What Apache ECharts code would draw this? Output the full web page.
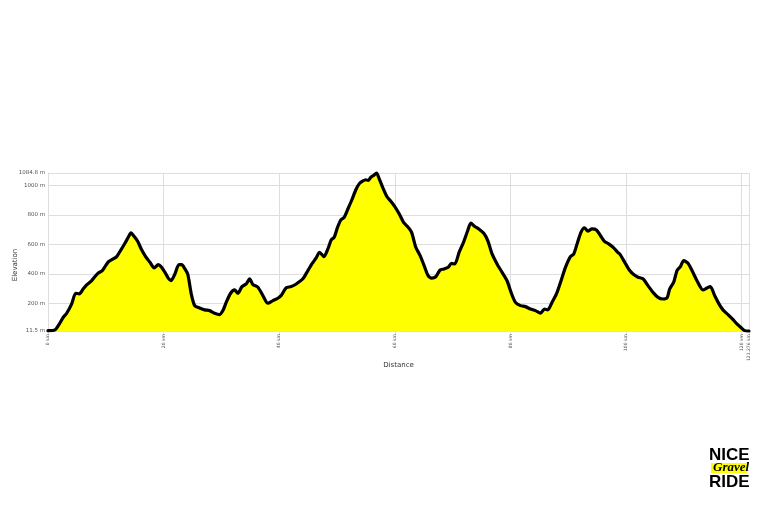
<!DOCTYPE html>
<html>
<head>
<meta charset="utf-8">
<script src="https://cdn.jsdelivr.net/npm/echarts@6/dist/echarts.min.js"></script>
<style>
html,body{margin:0;padding:0;background:#fff;}
#chart{width:768px;height:507px;}
</style>
</head>
<body>
<div id="chart"></div>
<script>
// Distance along route (km)
const distKm = [0, 1.21, 1.78, 2.65, 3.23, 4.10, 4.79, 5.41, 6.10, 6.69, 7.43, 8.13, 8.70, 9.39, 9.98, 10.55, 11.29, 11.88, 12.62, 13.31, 13.89, 14.35, 14.92, 15.51, 16.20, 16.89, 17.64, 18.38, 19.07, 19.66, 20.23, 20.80, 21.27, 21.96, 22.65, 23.12, 23.69, 24.20,
  24.78, 25.37, 26.23, 27.10, 27.96, 28.83, 29.69, 30.26, 30.83, 31.59, 32.28, 32.85, 33.55, 34.29, 34.88, 35.45, 36.31, 37.18, 38.04, 38.91, 39.77, 40.34, 41.21, 42.07, 42.94, 44.09, 44.96, 45.65, 46.39, 46.98, 47.73, 48.42, 48.99,
  49.51, 50.09, 50.67, 51.24, 51.82, 52.52, 53.26, 53.83, 54.42, 54.99, 55.39, 55.85, 56.32, 56.84, 57.29, 57.88, 58.62, 59.31, 60.00, 60.75, 61.51, 62.20, 62.89, 63.63, 64.38, 65.07, 65.76, 66.35, 67.09, 67.84, 68.53, 69.22, 69.81, 70.38, 71.12, 71.88, 72.57, 73.15, 73.84,
  74.53, 75.39, 76.08, 76.83, 77.69, 78.56, 79.42, 80.11, 80.87, 81.74, 82.60, 83.47, 84.33, 85.20, 85.89, 86.46, 87.20, 87.96, 88.76, 89.52, 90.38, 90.96, 91.53, 92.22, 92.81, 93.38, 94.12, 94.88, 95.57, 96.26, 97.01, 97.87, 98.57,
  98.91, 99.78, 100.64, 101.33, 102.07, 102.94, 103.80, 104.67, 105.53, 106.40, 107.09, 107.56, 108.25, 108.82, 109.41, 109.98, 110.72, 111.48, 112.28, 113.32, 114.01, 114.59, 115.34, 116.08, 116.77, 117.64, 118.40, 119.10, 119.83, 120.52, 121.276];
// Elevation (m)
const elevM = [14, 19, 48, 105, 132, 196, 268, 264, 298, 325, 348, 382, 405, 422, 456, 485, 502, 517, 563, 608, 648, 678, 653, 621, 563, 517, 478, 440, 462, 444, 410, 371, 353, 399, 462, 462, 433, 395,
  264, 184, 168, 155, 150, 132, 123, 150, 206, 268, 291, 268, 313, 331, 366, 327, 309, 252, 200, 218, 234, 252, 305, 313, 331, 366, 422, 467, 508, 546, 517, 569, 630,
  648, 716, 767, 784, 835, 898, 971, 1011, 1029, 1039, 1034, 1056, 1068, 1084.8, 1046, 989, 925, 893, 857, 808, 750, 721, 683, 580, 524, 456, 388, 371, 380, 426, 433, 444, 471, 467, 546, 614, 689, 744, 721,
  705, 675, 626, 535, 467, 410, 353, 274, 206, 184, 177, 161, 150, 132, 161, 155, 206, 263, 353, 444, 517, 535, 603, 683, 713, 690, 705, 698, 660, 621, 603, 576, 546,
  535, 478, 422, 395, 377, 366, 320, 274, 240, 229, 236, 297, 343, 422, 449, 490, 472, 417, 353, 290, 304, 313, 252, 196, 155, 123, 94, 64, 37, 14, 11.5];

const yTicks = [11.5, 200, 400, 600, 800, 1000, 1084.8];
const xTicks = [0, 20, 40, 60, 80, 100, 120, 121.276];
const yAxisName = 'Elevation';
const xAxisName = 'Distance';

const points = distKm.map((d, i) => [d, elevM[i]]);

const chart = echarts.init(document.getElementById('chart'), null, {renderer: 'canvas'});
const gridColor = '#dedede';
chart.setOption({
  animation: false,
  backgroundColor: '#ffffff',
  grid: {left: 48, right: 19, top: 173, bottom: 176, containLabel: false, outerBoundsMode: 'none'},
  xAxis: {
    type: 'value',
    min: xTicks[0],
    max: xTicks[xTicks.length - 1],
    name: xAxisName,
    nameLocation: 'middle',
    nameGap: 31,
    nameMoveOverlap: false,
    nameTextStyle: {fontSize: 7, color: '#333', fontFamily: 'DejaVu Sans'},
    axisLine: {show: true, lineStyle: {color: gridColor}},
    axisTick: {show: true, length: 9, lineStyle: {color: gridColor}, customValues: xTicks},
    axisLabel: {
      customValues: xTicks,
      rotate: 90,
      fontSize: 4.5,
      color: '#555',
      margin: 3,
      fontFamily: 'DejaVu Sans',
      formatter: v => v + ' km'
    },
    splitLine: {show: true, lineStyle: {color: gridColor, width: 1}}
  },
  yAxis: {
    type: 'value',
    min: yTicks[0],
    max: yTicks[yTicks.length - 1],
    name: yAxisName,
    nameLocation: 'middle',
    nameGap: 29,
    nameMoveOverlap: false,
    nameTextStyle: {fontSize: 7, color: '#333', fontFamily: 'DejaVu Sans', padding: [0, 26, 0, 0]},
    axisLine: {show: true, lineStyle: {color: gridColor}},
    axisTick: {show: false, customValues: yTicks},
    axisLabel: {
      customValues: yTicks,
      fontSize: 5.5,
      color: '#555',
      margin: 3,
      fontFamily: 'DejaVu Sans',
      formatter: v => v + ' m'
    },
    splitLine: {show: true, lineStyle: {color: gridColor, width: 1}}
  },
  series: [{
    type: 'line',
    data: points,
    showSymbol: false,
    smooth: 0.25,
    clip: false,
    lineStyle: {color: '#000000', width: 3.2, join: 'round', cap: 'round'},
    areaStyle: {color: '#ffff00', opacity: 1},
    z: 3
  }],
  graphic: [
    {type: 'rect', left: 711, top: 463, shape: {width: 36, height: 10}, style: {fill: '#ffff00'}},
    {type: 'text', left: 709, top: 447, style: {text: 'NICE', font: 'bold 17px "Liberation Sans"', fill: '#000'}},
    {type: 'text', left: 713, top: 461, style: {text: 'Gravel', font: 'italic bold 13px "Liberation Serif"', fill: '#000'}},
    {type: 'text', left: 709, top: 474, style: {text: 'RIDE', font: 'bold 17px "Liberation Sans"', fill: '#000'}}
  ]
});
</script>
</body>
</html>
